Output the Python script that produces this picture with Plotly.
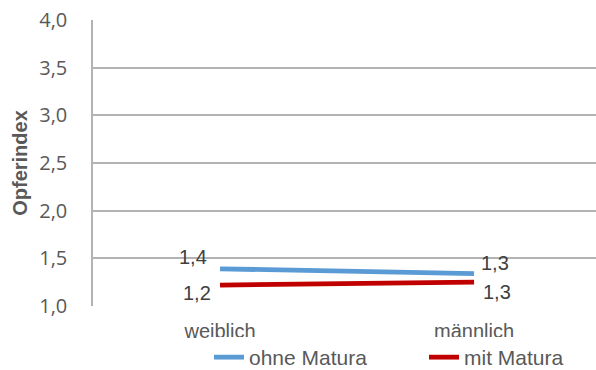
import plotly.graph_objects as go
from decimal import Decimal, ROUND_HALF_UP

# Kategorien und Werte
categories = ["weiblich", "männlich"]
ohne_matura = [1.39, 1.34]
mit_matura = [1.22, 1.25]
y_ticks = [1.0, 1.5, 2.0, 2.5, 3.0, 3.5, 4.0]
y_tick_labels = ["1,0", "1,5", "2,0", "2,5", "3,0", "3,5", "4,0"]

BLUE = "#5B9BD5"
RED = "#C00000"
GRID = "#B3B3B3"
TEXT = "#595959"
LABEL = "#404040"
ARIAL = "Liberation Sans, Arial, sans-serif"


def fmt(v):
    # kaufmännisch runden, Dezimalkomma
    d = Decimal(str(v)).quantize(Decimal("0.1"), rounding=ROUND_HALF_UP)
    return str(d).replace(".", ",")


fig = go.Figure()
fig.add_trace(go.Scatter(x=categories, y=ohne_matura, mode="lines", name="ohne Matura",
                         line=dict(color=BLUE, width=4.8)))
fig.add_trace(go.Scatter(x=categories, y=mit_matura, mode="lines", name="mit Matura",
                         line=dict(color=RED, width=4.8)))

# Datenbeschriftungen
label_font = dict(family=ARIAL, size=20, color=LABEL)
offsets_ohne = [(-27, 12), (21, 11)]
offsets_mit = [(-23, -8), (23, -10)]
for vals, offs in ((ohne_matura, offsets_ohne), (mit_matura, offsets_mit)):
    for cat, v, (dx, dy) in zip(categories, vals, offs):
        fig.add_annotation(x=cat, y=v, text=fmt(v), showarrow=False,
                           xshift=dx, yshift=dy, font=label_font)

fig.update_layout(
    width=596, height=370,
    margin=dict(l=93, r=0, t=20, b=64),
    plot_bgcolor="white", paper_bgcolor="white",
    showlegend=True,
    legend=dict(orientation="h", xref="container", yref="container",
                x=209 / 596, xanchor="left", y=1 - 337 / 370, yanchor="top",
                font=dict(family=ARIAL, size=21, color=TEXT),
                entrywidth=170, itemwidth=30, tracegroupgap=0),
    xaxis=dict(type="category", range=[-0.5, 1.48], showgrid=False,
               showline=False, zeroline=False, ticks="", automargin=False,
               tickfont=dict(family=ARIAL, size=20, color=TEXT),
               ticklabelstandoff=11),
    yaxis=dict(range=[1.0, 4.0], tickvals=y_ticks, ticktext=y_tick_labels,
               showgrid=True, gridcolor=GRID, gridwidth=1.5,
               showline=True, linecolor=GRID, linewidth=1.5,
               zeroline=False, ticks="", automargin=False,
               tickfont=dict(family="Open Sans, sans-serif", size=20, color=TEXT),
               ticklabelstandoff=20,
               title=dict(text="<b>Opferindex</b>", standoff=6,
                          font=dict(family=ARIAL, size=20, color=TEXT))),
)

fig.write_html("out.html")
